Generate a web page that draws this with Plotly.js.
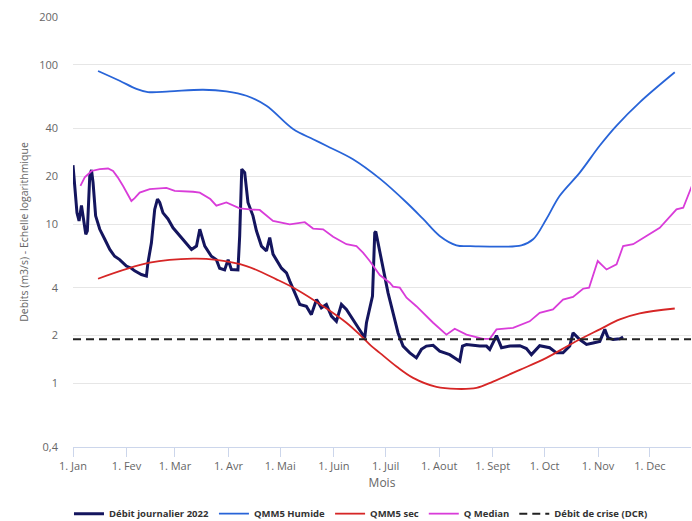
<!DOCTYPE html>
<html>
<head>
<meta charset="utf-8">
<script src="https://cdn.plot.ly/plotly-3.0.1.min.js"></script>
<style>
html,body{margin:0;padding:0;background:#fff;}
#chart{width:692px;height:521px;}
</style>
</head>
<body>
<div id="chart"></div>
<script>
// Day-of-year (0 = 1 Jan) of month starts and labels
const monthStartDays = [0,31,59,90,120,151,181,212,243,273,304,334];
const monthLabels = ["1. Jan","1. Fev","1. Mar","1. Avr","1. Mai","1. Juin","1. Juil","1. Aout","1. Sept","1. Oct","1. Nov","1. Dec"];

const yTickValues = [0.4,1,2,4,10,20,40,100,200];
const yTickLabels = ["0,4","1","2","4","10","20","40","100","200"];

// Débit journalier 2022
const dailyDays = [0,1,2.3,3.5,4.9,5.8,7.4,8.3,9.7,10.7,11.6,13.1,15.5,18.4,21.3,24.1,27,30.9,33.8,35.7,39.6,42.5,43.4,45.4,47.3,48.9,50.2,52.1,55,57.9,61.8,65.7,68.6,71.5,73.4,76.3,80.1,83,84.9,87.8,89.8,91.7,95.5,96.5,97.7,99.4,101.3,104.2,106.2,109.1,112,113.9,115.8,120.7,123.6,125.5,129.4,131.3,135.1,138,141,143.8,146.7,149.6,152.5,155.4,158.3,162.1,166,168.9,169.9,171.8,173.4,174.7,175.3,176.6,178.6,180,181,182.4,185.3,188.2,191.1,195,198.8,201.7,204.6,208.5,212.3,218.1,223.9,225.5,227.8,235.5,239.4,241.3,245.2,248.1,252.9,258.7,262.5,265.4,270.2,276,279.9,283.7,287.6,289.5,293.4,297.3,301.1,305,307.9,309.8,312.7,316.6,318.5];
const dailyValues = [23.5,17.4,11.8,10.5,13.1,11.3,8.65,9.1,20.1,21.9,18.3,11.3,9.3,8.05,6.95,6.3,6.0,5.47,5.3,5.1,4.84,4.73,5.74,7.65,12.4,14.4,13.7,11.8,10.8,9.5,8.45,7.5,6.95,7.3,9.3,7.3,6.3,6.0,5.3,5.17,6.0,5.2,5.17,8.45,22.2,21.1,13.7,11.3,9.1,7.3,6.8,8.25,6.5,5.3,4.96,4.4,3.54,3.14,3.06,2.71,3.37,2.99,3.14,2.65,2.46,3.14,2.92,2.53,2.19,1.94,2.41,2.92,3.54,8.85,9.0,7.65,6.0,5.0,4.4,3.71,2.78,2.08,1.72,1.56,1.45,1.64,1.72,1.74,1.60,1.52,1.38,1.72,1.76,1.72,1.72,1.64,2.0,1.68,1.72,1.73,1.66,1.52,1.73,1.68,1.56,1.56,1.72,2.08,1.89,1.76,1.80,1.84,2.19,1.94,1.89,1.91,1.96];

// QMM5 Humide
const humideDays = [14.5,27,36.7,43.4,56,75.3,88.8,100.4,112,127.4,139,146.7,162.1,178,193.1,202.7,212.3,222,230,259.6,266.4,274.1,281.8,293.4,304.9,314.6,328.1,348.4];
const humideValues = [91.7,79.6,70.8,67.6,68.3,69.9,68.3,64.1,55.4,39.6,34.2,31.1,25.6,19.2,13.7,10.8,8.45,7.38,7.3,7.38,8.05,10.8,15.1,21.1,31.1,41.5,58.3,90];

// QMM5 sec
const secDays = [14.5,44.4,69.5,83,100.4,117.8,129.4,144.8,158.3,167.9,172.8,177.6,187.3,196.9,210.4,222,233.6,243.2,258.7,274.1,289.5,305,316.6,328.1,348.4];
const secValues = [4.55,5.74,6.09,5.98,5.47,4.51,3.90,3.06,2.41,1.94,1.72,1.56,1.28,1.086,0.953,0.926,0.94,1.03,1.22,1.45,1.80,2.19,2.53,2.76,2.96];

// Q Median
const medianDays = [4.3,6.8,10.7,15.5,20.3,23.2,25.9,29,33.8,35.7,38.6,44.4,54.1,58.9,69.5,73.4,79.5,83,88.8,96.5,102.3,108.1,115.8,125.5,134.2,139,144.8,150.6,158.3,164.1,167.9,171.8,177.6,183.4,185.3,189.2,193.1,198.8,208.5,216.2,221,227.8,237.4,241.3,245.2,254.8,264.4,270.2,277.9,283.7,289.5,295.3,298.8,303.8,308.9,314.7,318.5,324.3,332,339.7,349.4,353.3,358.3];
const medianValues = [17.4,19.7,21.6,22.2,22.4,21.6,19.7,17.4,14.0,14.6,15.8,16.6,16.9,16.2,16.0,15.8,14.4,13.1,13.7,12.6,12.4,12.3,10.5,10,10.3,9.4,9.3,8.35,7.5,7.3,6.64,5.88,4.8,4.3,4.06,4.0,3.46,3.06,2.41,2.03,2.21,2.03,1.91,1.91,2.19,2.24,2.46,2.78,2.92,3.37,3.50,3.94,4.0,5.88,5.2,5.6,7.3,7.5,8.45,9.5,12.4,12.7,17.4];

// Débit de crise (DCR)
const dcrValue = 1.9;
const xRange = [0, 357.8];

const font = '"Open Sans", "DejaVu Sans", sans-serif';

const traces = [
  {x: dailyDays, y: dailyValues, name: "Débit journalier 2022", type: "scatter", mode: "lines",
   line: {color: "#14155e", width: 3}},
  {x: humideDays, y: humideValues, name: "QMM5 Humide", type: "scatter", mode: "lines",
   line: {color: "#2864d8", width: 1.8, shape: "spline"}},
  {x: secDays, y: secValues, name: "QMM5 sec", type: "scatter", mode: "lines",
   line: {color: "#d62626", width: 1.8, shape: "spline"}},
  {x: medianDays, y: medianValues, name: "Q Median", type: "scatter", mode: "lines",
   line: {color: "#d93cd9", width: 1.8}},
  {x: xRange, y: [dcrValue, dcrValue], name: "Débit de crise (DCR)", type: "scatter", mode: "lines",
   line: {color: "#222222", width: 2, dash: "8px,5px"}}
];

const layout = {
  width: 692, height: 521,
  margin: {l: 73, r: 1, t: 17, b: 74, autoexpand: false},
  paper_bgcolor: "#ffffff", plot_bgcolor: "#ffffff",
  font: {family: font, size: 11, color: "#666666"},
  showlegend: true,
  legend: {orientation: "h", x: 0.466, xanchor: "center", y: -0.155, yanchor: "middle",
    font: {family: font, size: 9.5, color: "#333333", weight: "bold"}, itemwidth: 30, tracegroupgap: 0},
  xaxis: {
    range: xRange, tickmode: "array", tickvals: monthStartDays, ticktext: monthLabels,
    showgrid: false, zeroline: false, showline: true, linecolor: "#ccd6eb", linewidth: 1,
    ticks: "outside", ticklen: 9, tickcolor: "#ccd6eb",
    tickfont: {family: font, size: 11, color: "#666666"},
    title: {text: "Mois", font: {family: font, size: 12, color: "#666666"}, standoff: 6},
    fixedrange: true
  },
  yaxis: {
    type: "log", range: [Math.log10(0.4), Math.log10(200)],
    tickmode: "array", tickvals: yTickValues, ticktext: yTickLabels,
    showgrid: true, gridcolor: "#e6e6e6", gridwidth: 1, zeroline: false, showline: false,
    ticks: "", ticklabelstandoff: 14,
    tickfont: {family: font, size: 11, color: "#666666"},
    title: {text: "Debits (m3/s) - Echelle logarithmique", font: {family: font, size: 10.5, color: "#666666"}, standoff: 8},
    fixedrange: true
  }
};

Plotly.newPlot("chart", traces, layout, {displayModeBar: false, staticPlot: true});
</script>
</body>
</html>
